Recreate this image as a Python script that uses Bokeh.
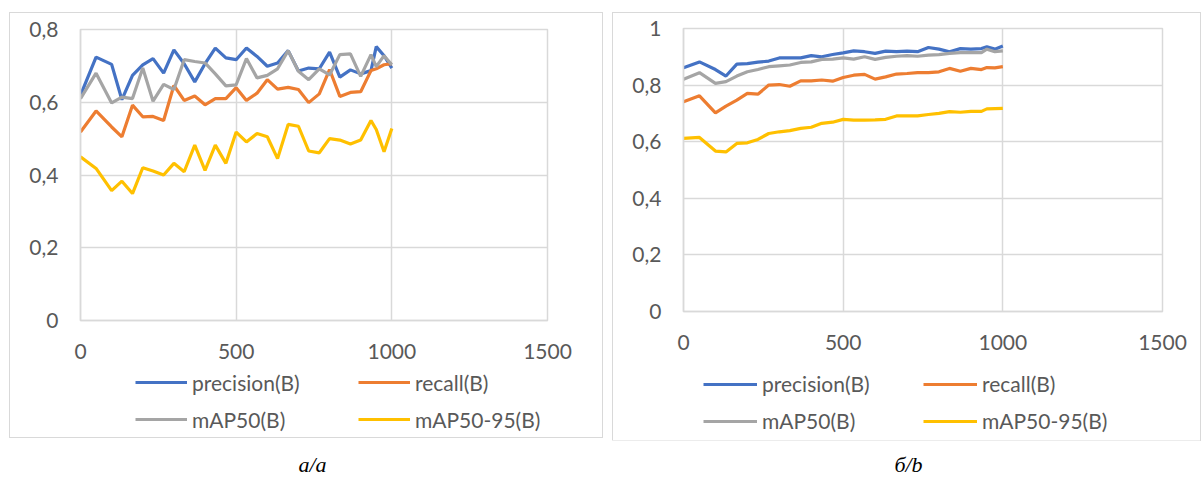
from bokeh.plotting import figure
from bokeh.layouts import column, row
from bokeh.models import Spacer, Legend, LegendItem, FixedTicker, Range1d
from bokeh.core.properties import value
from bokeh.embed import file_html
from bokeh.resources import INLINE

# ---------------- data ----------------
steps = [0, 50, 100, 133, 167, 200, 233, 267, 300, 333, 367, 400, 433, 467, 500,
         533, 567, 600, 633, 667, 700, 733, 767, 800, 833, 867, 900, 933, 950, 975, 1000]

a_precision = [0.619, 0.724, 0.704, 0.607, 0.674, 0.703, 0.720, 0.680, 0.744, 0.706, 0.656,
               0.706, 0.749, 0.722, 0.717, 0.749, 0.726, 0.699, 0.708, 0.742, 0.686, 0.694,
               0.692, 0.738, 0.669, 0.689, 0.678, 0.687, 0.753, 0.728, 0.694]
a_recall = [0.518, 0.576, 0.532, 0.505, 0.592, 0.560, 0.561, 0.550, 0.646, 0.605, 0.617,
            0.593, 0.610, 0.610, 0.640, 0.605, 0.625, 0.662, 0.636, 0.641, 0.635, 0.599,
            0.623, 0.690, 0.616, 0.627, 0.629, 0.687, 0.692, 0.703, 0.706]
a_map50 = [0.610, 0.680, 0.598, 0.614, 0.610, 0.694, 0.603, 0.649, 0.635, 0.717, 0.712,
           0.708, 0.678, 0.645, 0.648, 0.720, 0.667, 0.674, 0.692, 0.742, 0.685, 0.662,
           0.692, 0.675, 0.731, 0.733, 0.671, 0.731, 0.698, 0.728, 0.703]
a_map5095 = [0.450, 0.418, 0.357, 0.383, 0.349, 0.420, 0.411, 0.400, 0.432, 0.409, 0.482,
             0.413, 0.482, 0.432, 0.518, 0.491, 0.514, 0.505, 0.445, 0.539, 0.534, 0.466,
             0.461, 0.500, 0.496, 0.485, 0.496, 0.550, 0.525, 0.464, 0.528]

b_precision = [0.861, 0.882, 0.855, 0.832, 0.874, 0.876, 0.881, 0.885, 0.896, 0.896, 0.896,
               0.904, 0.900, 0.908, 0.914, 0.921, 0.918, 0.912, 0.920, 0.918, 0.920, 0.918,
               0.933, 0.927, 0.918, 0.929, 0.927, 0.929, 0.935, 0.927, 0.938]
b_recall = [0.741, 0.762, 0.702, 0.726, 0.747, 0.771, 0.768, 0.800, 0.802, 0.796, 0.815,
            0.815, 0.818, 0.814, 0.827, 0.835, 0.838, 0.821, 0.829, 0.839, 0.841, 0.844,
            0.844, 0.847, 0.859, 0.849, 0.859, 0.855, 0.862, 0.861, 0.865]
b_map50 = [0.821, 0.844, 0.806, 0.812, 0.832, 0.847, 0.855, 0.865, 0.868, 0.871, 0.880,
           0.882, 0.891, 0.892, 0.896, 0.892, 0.900, 0.891, 0.898, 0.902, 0.904, 0.902,
           0.906, 0.908, 0.912, 0.915, 0.915, 0.915, 0.927, 0.918, 0.921]
b_map5095 = [0.612, 0.615, 0.567, 0.564, 0.594, 0.596, 0.608, 0.629, 0.635, 0.639, 0.647,
             0.651, 0.665, 0.669, 0.679, 0.676, 0.676, 0.677, 0.679, 0.691, 0.691, 0.691,
             0.696, 0.700, 0.706, 0.704, 0.707, 0.707, 0.716, 0.717, 0.718]

series_names = ["precision(B)", "recall(B)", "mAP50(B)", "mAP50-95(B)"]
x_ticks = [0, 500, 1000, 1500]
a_yticks = [0, 0.2, 0.4, 0.6, 0.8]
b_yticks = [0, 0.2, 0.4, 0.6, 0.8, 1]
y_labels = {0: "0", 0.2: "0,2", 0.4: "0,4", 0.6: "0,6", 0.8: "0,8", 1: "1"}
captions = ["а/a", "б/b"]

colors = ["#4472C4", "#ED7D31", "#A5A5A5", "#FFC000"]
GRID = "#D9D9D9"
TXT = "#595959"
FONT = "Lato"
FS = "21px"
LW = 3.2


def make_chart(width, height, left, top, fw, fh, ymax, yticks, series):
    p = figure(width=width, height=height, output_backend="svg", toolbar_location=None,
               x_range=Range1d(0, 1500), y_range=Range1d(0, ymax),
               min_border_left=left, min_border_top=top,
               min_border_right=width - left - fw, min_border_bottom=height - top - fh)
    p.frame_width = fw
    p.frame_height = fh
    p.outline_line_color = GRID
    p.outline_line_width = 1.5
    p.background_fill_color = "white"
    p.border_fill_color = "white"

    p.xaxis.ticker = FixedTicker(ticks=x_ticks)
    p.yaxis.ticker = FixedTicker(ticks=yticks)
    p.yaxis.major_label_overrides = y_labels
    for ax in (p.xaxis[0], p.yaxis[0]):
        ax.axis_line_color = GRID
        ax.axis_line_width = 1.5
        ax.major_tick_line_color = None
        ax.minor_tick_line_color = None
        ax.major_tick_out = 0
        ax.major_tick_in = 0
        ax.major_label_text_color = TXT
        ax.major_label_text_font = FONT
        ax.major_label_text_font_size = FS
    p.xaxis.major_label_standoff = 23
    p.yaxis.major_label_standoff = 22
    p.xgrid.ticker = FixedTicker(ticks=x_ticks)
    p.ygrid.ticker = FixedTicker(ticks=yticks)
    p.grid.grid_line_color = GRID
    p.grid.grid_line_width = 1.5

    for ys, c in zip(series, colors):
        p.line(steps, ys, line_color=c, line_width=LW)
    return p


def make_legend(width, height, lx, ly, glyph_w, label_w, spacing, series):
    # legend strip under a chart; the series are drawn out of view so only the
    # legend glyphs show
    q = figure(width=width, height=height, output_backend="svg", toolbar_location=None,
               x_range=Range1d(0, 1500), y_range=Range1d(10, 11),
               x_axis_location=None, y_axis_location=None, min_border=0)
    q.grid.visible = False
    q.outline_line_color = None
    q.background_fill_color = "white"
    items = []
    for name, ys, c in zip(series_names, series, colors):
        r = q.line(steps, ys, line_color=c, line_width=LW)
        items.append(LegendItem(label=name, renderers=[r]))
    leg = Legend(items=items, location=(lx, ly), orientation="horizontal",
                 ncols=2, border_line_color=None, background_fill_alpha=0,
                 padding=0, margin=0, spacing=spacing,
                 glyph_width=glyph_w, glyph_height=22, label_height=22,
                 label_width=label_w, label_standoff=5,
                 label_text_font=FONT, label_text_font_size=FS,
                 label_text_color=TXT)
    q.add_layout(leg, "center")
    return q


sa = [a_precision, a_recall, a_map50, a_map5095]
sb = [b_precision, b_recall, b_map50, b_map5095]
pa = make_chart(592, 358, 70, 16, 467, 291, 0.8, a_yticks, sa)
la = make_legend(592, 66, 55, 5.5, 52, 154, 12, sa)
pb = make_chart(587, 350, 70, 15, 479, 283, 1.0, b_yticks, sb)
lb = make_legend(587, 77, 20, 7, 54, 149, 12, sb)

box_style = {"outline": "1.5px solid #D9D9D9"}
box_a = column(pa, la, styles=box_style)
box_b = column(pb, lb, styles=box_style)

cap = figure(width=1200, height=40, output_backend="svg", toolbar_location=None,
             x_range=Range1d(0, 1200), y_range=Range1d(0, 40),
             x_axis_location=None, y_axis_location=None, min_border=0)
cap.grid.visible = False
cap.outline_line_color = None
cap.text(x=[312, 908], y=[16, 16], text=captions, text_font=value("Liberation Serif"),
         text_font_style="italic", text_font_size="22px", text_color="#000000",
         text_align="center", text_baseline="middle")

layout = column(Spacer(height=13),
                row(Spacer(width=10), box_a, Spacer(width=11), box_b),
                cap)

open("out.html", "w").write(file_html(layout, INLINE))
